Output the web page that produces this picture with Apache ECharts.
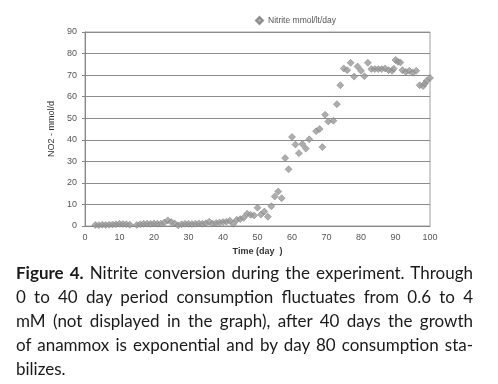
<!DOCTYPE html>
<html>
<head>
<meta charset="utf-8">
<script src="https://cdn.jsdelivr.net/npm/echarts@6/dist/echarts.min.js"></script>
<style>
  html, body { margin: 0; padding: 0; background: #fff; }
  #wrap { position: relative; width: 498px; height: 384px; overflow: hidden; }
  #chart { position: absolute; left: 0; top: 0; width: 498px; height: 384px; }
  #caption {
    position: absolute; left: 16px; top: 261px; width: 457px;
    font-family: Lato, "Open Sans", sans-serif; font-size: 17px;
    line-height: 24px; color: #1a1a1a;
  }
  #caption div { white-space: nowrap; text-align: justify; text-align-last: justify; }
  #caption div.last { text-align-last: left; }
</style>
</head>
<body>
<div id="wrap">
  <div id="chart"></div>
  <div id="caption">
    <div><b>Figure 4.</b> Nitrite conversion during the experiment. Through</div>
    <div>0 to 40 day period consumption fluctuates from 0.6 to 4</div>
    <div>mM (not displayed in the graph), after 40 days the growth</div>
    <div>of anammox is exponential and by day 80 consumption sta-</div>
    <div class="last">bilizes.</div>
  </div>
</div>
<script>
// day of measurement
const days = [
  3, 4, 5, 6, 7, 8, 9, 10, 11, 12, 13, 15, 16, 17, 18, 19, 20, 21, 22, 23,
  24, 25, 26, 27, 28, 29, 30, 31, 32, 33, 34, 35, 36, 37, 38, 39, 40, 41, 42, 43,
  44, 45, 46, 47, 48, 49, 50, 51, 52, 53, 54, 55, 56, 57, 58, 59, 60, 61, 62, 63,
  64, 65, 67, 68, 68.8, 69.6, 70.5, 72, 73, 74, 75, 76, 77, 78, 79, 80, 81, 82, 83, 84,
  85, 86, 87, 88, 89, 89.5, 90, 90.7, 91.4, 92, 93, 94, 95, 96, 97, 98, 98.5, 99, 100
];
// nitrite consumption, mmol/lt/day
const nitrite = [
  0.5, 0.4, 0.6, 0.5, 0.6, 0.7, 0.8, 1.0, 0.9, 0.8, 0.6, 0.5, 0.8, 1.0, 1.1, 1.0, 1.2, 1.0, 1.1, 1.6,
  2.6, 1.8, 1.2, 0.3, 0.8, 1.0, 1.0, 0.9, 1.1, 1.2, 1.0, 1.3, 2.0, 1.1, 1.4, 1.6, 1.8, 2.0, 2.4, 1.0,
  2.9, 3.2, 3.8, 5.7, 5.2, 4.9, 8.5, 5.3, 6.7, 4.3, 9.2, 13.7, 16.0, 12.9, 31.5, 26.3, 41.3, 37.8, 33.8, 38.0,
  35.9, 40.2, 44.0, 45.0, 36.6, 51.6, 48.5, 48.8, 56.5, 65.3, 73.1, 72.3, 75.7, 69.3, 74.0, 72.0, 69.5, 75.7, 72.8, 72.8,
  72.8, 72.8, 73.1, 72.3, 72.0, 73.0, 77.0, 76.2, 75.9, 72.3, 71.5, 72.0, 71.1, 72.0, 65.3, 64.9, 66.1, 67.3, 68.7
];

const seriesName = "Nitrite mmol/lt/day";
const labelFont = "'Liberation Sans Narrow', 'Liberation Sans', Arial, sans-serif";

const chart = echarts.init(document.getElementById("chart"));

chart.setOption({
  animation: false,
  textStyle: { fontFamily: labelFont },
  legend: {
    data: [seriesName],
    left: 250,
    top: 11,
    itemWidth: 7,
    itemHeight: 7,
    itemGap: 4,
    textStyle: { color: "#555", fontSize: 8.5, fontFamily: labelFont },
  },
  grid: {
    left: 85,
    right: 68,
    top: 32,
    bottom: 158,
    show: true,
    borderColor: "#a0a0a0",
    borderWidth: 1,
  },
  xAxis: {
    type: "value",
    min: 0,
    max: 100,
    interval: 10,
    name: "Time (day  )",
    nameLocation: "middle",
    nameGap: 18,
    nameTextStyle: { color: "#333", fontSize: 9, fontWeight: "bold", fontFamily: labelFont },
    axisLine: { show: true, lineStyle: { color: "#888" } },
    axisTick: { show: false },
    axisLabel: { color: "#555", fontSize: 9, margin: 7 },
    splitLine: { show: false },
  },
  yAxis: {
    type: "value",
    min: 0,
    max: 90,
    interval: 10,
    name: "NO2 - mmol/d",
    nameLocation: "middle",
    nameGap: 26,
    nameTextStyle: { color: "#333", fontSize: 9, fontFamily: labelFont },
    axisLine: { show: true, lineStyle: { color: "#888" } },
    axisTick: { show: true, length: 3, lineStyle: { color: "#888" } },
    axisLabel: { color: "#555", fontSize: 9, margin: 8 },
    splitLine: { lineStyle: { color: "#8c8c8c" } },
  },
  series: [
    {
      name: seriesName,
      type: "scatter",
      symbol: "diamond",
      symbolSize: 7,
      data: days.map((d, i) => [d, nitrite[i]]),
      itemStyle: {
        color: "#999999",
        borderColor: "#7a7a7a",
        borderWidth: 0.6,
      },
    },
  ],
});
</script>
</body>
</html>
